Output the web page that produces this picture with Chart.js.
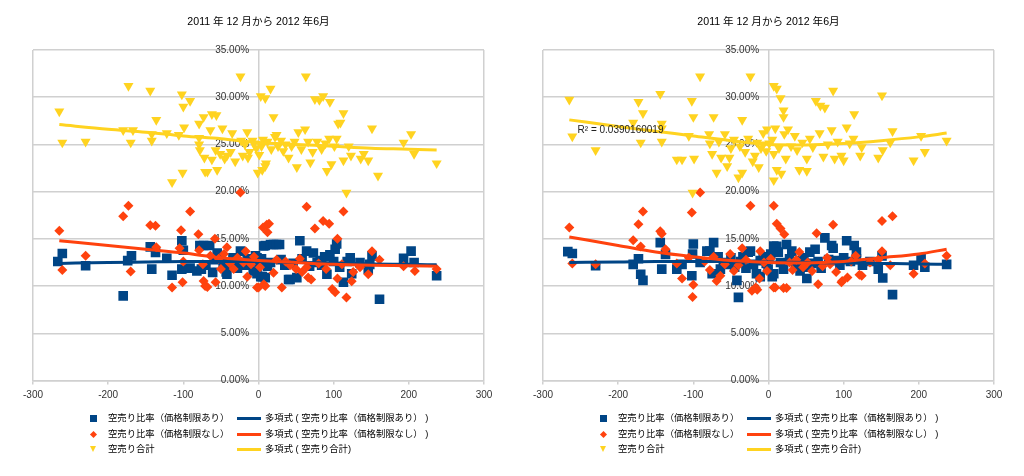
<!DOCTYPE html>
<html>
<head>
<meta charset="utf-8">
<script src="https://cdn.jsdelivr.net/npm/chart.js@4"></script>
<style>
  body { margin: 0; background: #fff; width: 1024px; height: 476px; overflow: hidden; position: relative;
         font-family: "Liberation Sans", "Noto Sans CJK JP", sans-serif; }
  .panel { position: absolute; top: 0; width: 510px; height: 476px; }
  .panel canvas { position: absolute; left: 0; top: 0; }
  .title { position: absolute; top: 13px; left: 0; width: 517px; text-align: center; font-size: 10.6px; color: #000; }
  .lg { position: absolute; font-size: 9.33px; color: #000; white-space: nowrap; line-height: 12px; }
  .mk { position: absolute; }
</style>
</head>
<body>
<div class="panel" id="p0" style="left:0"><canvas id="c0" width="510" height="476"></canvas></div>
<div class="panel" id="p1" style="left:510px"><canvas id="c1" width="510" height="476"></canvas></div>
<script>
// 2011年12月から2012年6月
const chartTitle = '2011 年 12 月から 2012 年6月';
const seriesNames = ['空売り比率（価格制限あり）', '空売り比率（価格制限なし）', '空売り合計'];
const trendNames = ['多項式 ( 空売り比率（価格制限あり） )', '多項式 ( 空売り比率（価格制限なし） )', '多項式 ( 空売り合計)'];
const colors = ['#004586', '#ff420e', '#ffd320'];
const gridColor = '#d0d0d0';

// left chart: [x, %]
const leftWith = [[-267,12.6],[-261,13.45],[-230,12.15],[-180,8.96],[-174,12.7],[-169,13.2],[-144,14.15],[-142,11.8],[-137,13.55],[-122,12.95],[-115,11.15],[-102,14.8],[-100,13.8],[-102,11.8],[-91,11.9],[-82,11.6],[-78,14.3],[-76,11.8],[-73,14.3],[-70,12.2],[-65,14.3],[-61,11.45],[-58,12.8],[-55,13.5],[-51,13.2],[-47,12.5],[-43,11.5],[-42,11.25],[-38,12.3],[-34,13.0],[-30,12.6],[-28,11.9],[-24,13.7],[-19,12.2],[-15,12.9],[-12,12.6],[-11,12.7],[-7,11.6],[-4,13.2],[-2,11.3],[-2,13.0],[1,12.4],[3,11.0],[4,12.9],[5,11.0],[7,14.25],[9,14.3],[9,10.9],[12,12.1],[16,12.5],[16,14.4],[20,14.4],[24,14.4],[28,14.4],[30,12.8],[35,12.2],[40,10.7],[42,10.7],[46,12.4],[51,10.9],[55,14.8],[58,12.9],[64,13.7],[68,12.1],[73,13.5],[78,12.5],[82,12.7],[84,12.2],[88,13.1],[91,11.25],[95,13.3],[100,12.6],[102,13.9],[104,14.45],[108,12.0],[113,10.4],[118,12.6],[122,13.0],[124,11.3],[135,12.5],[146,11.8],[148,12.3],[151,13.2],[161,8.6],[193,12.95],[203,13.7],[207,12.5],[237,11.1]];
const leftWithout = [[-265,15.85],[-261,11.7],[-230,13.2],[-180,17.4],[-173,18.5],[-170,11.55],[-144,16.45],[-137,16.4],[-136,14.1],[-115,9.85],[-105,14.0],[-103,15.9],[-101,10.4],[-100,12.6],[-91,17.9],[-80,15.5],[-79,13.8],[-74,12.3],[-73,10.55],[-71,10.0],[-68,9.9],[-64,13.2],[-58,15.0],[-57,10.4],[-53,12.9],[-50,11.8],[-46,13.4],[-42,14.1],[-38,12.4],[-33,11.8],[-28,13.0],[-24,19.9],[-20,12.5],[-17,13.7],[-15,11.0],[-10,12.3],[-6,13.1],[-2,9.85],[0,9.85],[2,12.0],[6,16.2],[7,10.2],[9,10.0],[11,16.5],[12,15.7],[14,16.6],[20,11.4],[24,12.8],[31,9.85],[36,12.6],[42,12.2],[50,11.8],[55,12.9],[58,11.5],[64,18.4],[64,12.0],[66,10.9],[70,10.7],[75,16.1],[80,12.4],[86,16.9],[90,11.8],[94,16.6],[98,9.7],[102,9.35],[105,15.0],[105,10.8],[111,12.3],[113,17.9],[117,8.8],[124,10.5],[126,11.5],[135,12.0],[146,11.25],[151,13.7],[161,12.8],[193,12.1],[208,11.6],[237,11.8]];
const leftTotal = [[-265,28.5],[-261,25.2],[-230,25.3],[-180,26.5],[-173,31.2],[-170,25.2],[-167,26.5],[-144,30.7],[-142,26.1],[-142,25.4],[-136,27.6],[-122,26.2],[-115,21.0],[-106,26.0],[-102,30.3],[-101,22.0],[-100,29.0],[-99,26.8],[-91,29.6],[-79,27.2],[-79,25.7],[-79,25.0],[-78,24.4],[-73,27.9],[-72,23.6],[-71,22.1],[-68,22.1],[-64,26.5],[-62,28.2],[-62,23.4],[-57,24.4],[-56,28.1],[-55,22.3],[-51,24.0],[-48,26.7],[-45,23.5],[-42,23.8],[-37,24.2],[-35,26.2],[-31,23.2],[-24,32.2],[-23,25.4],[-21,23.8],[-18,25.0],[-15,26.3],[-14,23.6],[-12,24.2],[-8,25.4],[-6,25.1],[-3,24.6],[-1,22.0],[1,23.9],[3,30.1],[4,24.8],[5,22.3],[6,25.5],[9,29.9],[9,22.7],[10,23.0],[12,25.3],[16,30.9],[17,24.5],[20,27.9],[22,25.8],[24,26.0],[26,24.8],[30,25.4],[33,24.3],[36,25.0],[40,23.6],[44,24.8],[48,25.3],[51,22.6],[53,26.3],[57,24.5],[62,26.6],[63,32.2],[66,25.3],[69,23.1],[72,24.2],[75,29.8],[78,25.3],[81,29.7],[84,24.5],[86,30.1],[89,25.1],[91,22.2],[94,25.6],[95,29.5],[97,22.9],[101,24.8],[104,25.6],[106,27.2],[109,27.3],[113,28.3],[113,23.3],[117,19.9],[120,24.8],[123,23.8],[136,23.5],[140,24.0],[146,23.3],[151,26.7],[159,21.7],[193,25.2],[203,26.1],[207,24.0],[237,23.0]];

// right chart: [x, %]
const rightWith = [[-267,13.65],[-261,13.45],[-230,12.15],[-180,12.3],[-173,12.9],[-170,11.25],[-167,10.6],[-144,14.6],[-142,11.8],[-137,13.35],[-122,11.8],[-115,12.3],[-102,11.1],[-101,13.4],[-100,14.45],[-91,12.5],[-82,13.7],[-78,13.7],[-75,11.3],[-73,14.6],[-67,13.1],[-64,11.8],[-60,12.5],[-55,12.3],[-50,13.0],[-45,12.0],[-42,10.6],[-40,8.8],[-37,12.6],[-34,13.1],[-30,11.9],[-27,13.6],[-24,13.7],[-20,12.3],[-16,11.3],[-11,12.7],[-11,11.0],[-7,13.1],[-3,12.4],[-0.5,11.8],[3,13.4],[5,11.0],[7,14.25],[7,11.3],[11,14.2],[13,13.6],[16,12.5],[20,11.8],[24,14.4],[28,12.9],[31,13.7],[36,12.3],[42,11.6],[42,12.7],[47,13.0],[51,10.8],[51,12.0],[55,13.6],[58,12.4],[62,13.9],[66,12.6],[70,11.9],[75,15.1],[80,12.8],[84,14.3],[86,14.0],[91,12.7],[95,12.2],[100,13.0],[104,14.8],[109,12.6],[114,14.3],[117,12.9],[117,13.6],[125,12.2],[135,12.6],[146,11.8],[151,13.2],[152,10.85],[165,9.1],[193,12.2],[203,12.9],[208,12.0],[237,12.3]];
const rightWithout = [[-265,16.2],[-261,12.4],[-230,12.3],[-180,14.85],[-173,16.55],[-170,14.2],[-167,17.9],[-144,15.8],[-142,15.55],[-137,13.9],[-122,12.4],[-115,10.8],[-106,13.0],[-102,17.8],[-101,8.85],[-100,10.15],[-91,19.9],[-85,12.6],[-78,11.7],[-73,13.1],[-69,10.55],[-64,11.1],[-58,12.3],[-51,13.4],[-46,11.6],[-40,12.2],[-35,14.0],[-30,12.8],[-24,18.5],[-22,9.5],[-17,9.85],[-15,9.6],[-12,10.8],[-11,13.7],[-6,12.5],[-2,11.6],[3,12.9],[7,18.5],[7,9.85],[9,9.85],[11,16.6],[16,16.1],[20,9.8],[21,15.5],[24,9.8],[28,12.5],[32,11.7],[37,12.8],[41,13.6],[46,12.0],[52,12.5],[58,11.6],[64,15.6],[66,10.2],[72,12.1],[78,13.0],[82,12.3],[86,16.5],[90,11.5],[97,10.4],[98,10.55],[105,10.9],[110,12.6],[116,13.2],[121,11.2],[124,11.1],[135,12.5],[146,12.8],[151,16.9],[151,13.7],[162,12.2],[165,17.4],[193,11.3],[208,12.4],[237,13.2]];
const rightTotal = [[-265,29.75],[-261,25.85],[-230,24.4],[-180,27.3],[-173,29.5],[-170,25.2],[-167,28.3],[-144,30.35],[-142,27.2],[-142,26.7],[-142,25.3],[-122,23.4],[-115,23.4],[-106,25.9],[-102,29.6],[-101,19.9],[-100,27.9],[-99,23.5],[-91,32.2],[-79,26.1],[-78,25.1],[-75,24.0],[-73,27.9],[-69,22.0],[-66,25.3],[-63,23.6],[-58,26.1],[-55,22.7],[-52,23.6],[-50,24.6],[-46,25.5],[-40,21.5],[-38,24.8],[-35,27.6],[-35,22.0],[-31,24.2],[-27,25.6],[-24,32.2],[-21,23.2],[-18,23.8],[-15,25.2],[-13,22.6],[-10,24.6],[-7,26.2],[-7,25.0],[-3,24.3],[-2,26.6],[1,25.1],[5,25.5],[7,31.2],[7,24.0],[7,21.2],[9,26.7],[11,30.9],[11,22.3],[14,24.6],[16,29.9],[17,21.9],[20,28.6],[20,27.9],[21,26.1],[23,23.5],[26,26.6],[30,24.8],[35,25.9],[38,24.4],[41,22.3],[45,25.2],[51,22.2],[51,23.5],[55,25.6],[59,24.7],[63,29.6],[68,26.2],[69,29.1],[73,23.7],[75,28.9],[79,25.0],[84,26.5],[86,30.7],[88,23.5],[92,25.3],[97,23.8],[100,23.3],[104,26.8],[108,25.1],[113,25.6],[114,28.2],[122,23.8],[124,24.7],[146,23.6],[151,30.2],[152,24.4],[162,25.2],[165,26.4],[193,23.3],[203,25.9],[208,24.2],[237,25.4]];

// polynomial trend curves
const trendX = [-265, -200, -150, -100, -50, 0, 50, 100, 150, 200, 237];
const leftTrendWith = [12.4, 12.5, 12.55, 12.6, 12.6, 12.6, 12.5, 12.45, 12.35, 12.3, 12.25];
const leftTrendWithout = [14.8, 14.3, 13.9, 13.5, 13.0, 12.7, 12.5, 12.3, 12.2, 12.15, 12.1];
const leftTrendTotal = [27.1, 26.6, 26.3, 25.9, 25.6, 25.2, 25.0, 24.8, 24.6, 24.5, 24.4];
const rightTrendWith = [12.5, 12.55, 12.6, 12.6, 12.6, 12.55, 12.5, 12.45, 12.4, 12.35, 12.3];
const rightTrendWithout = [15.2, 14.3, 13.6, 13.1, 12.7, 12.5, 12.45, 12.6, 13.0, 13.4, 13.9];
const rightTrendTotal = [27.6, 26.9, 26.4, 25.9, 25.4, 25.0, 24.95, 25.1, 25.4, 25.8, 26.2];

const r2Text = 'R² = 0.0390160019';
const r2At = [-254, 26.55];

function trend(ys) {
  return trendX.map((x, i) => ({x: x, y: ys[i]}));
}
function pts(arr) {
  return arr.map(p => ({x: p[0], y: p[1]}));
}

const r2Plugin = {
  id: 'r2label',
  afterDatasetsDraw(chart) {
    if (!chart.options.plugins.r2label || !chart.options.plugins.r2label.show) return;
    const ctx = chart.ctx;
    const x = chart.scales.x.getPixelForValue(r2At[0]);
    const y = chart.scales.y.getPixelForValue(r2At[1]);
    ctx.save();
    ctx.font = '10px "Liberation Sans"';
    ctx.fillStyle = '#222';
    ctx.textBaseline = 'middle';
    ctx.fillText(r2Text, x, y);
    ctx.restore();
  }
};

function makeChart(id, withPts, withoutPts, totalPts, tWith, tWithout, tTotal, showR2) {
  const line = (data, c, label) => ({
    type: 'line', label: label, data: trend(data), borderColor: c, borderWidth: 3,
    pointRadius: 0, fill: false, cubicInterpolationMode: 'monotone'
  });
  new Chart(document.getElementById(id), {
    type: 'scatter',
    data: {
      datasets: [
        line(tTotal, colors[2], trendNames[2]),
        line(tWithout, colors[1], trendNames[1]),
        line(tWith, colors[0], trendNames[0]),
        { label: seriesNames[2], data: pts(totalPts), pointStyle: 'triangle', pointRotation: 180, pointRadius: 5.8,
          backgroundColor: colors[2], borderColor: colors[2], borderWidth: 0 },
        { label: seriesNames[1], data: pts(withoutPts), pointStyle: 'rectRot', pointRadius: 5,
          backgroundColor: colors[1], borderColor: colors[1], borderWidth: 0 },
        { label: seriesNames[0], data: pts(withPts), pointStyle: 'rect', pointRadius: 6.8,
          backgroundColor: colors[0], borderColor: colors[0], borderWidth: 0 }
      ]
    },
    options: {
      responsive: false,
      animation: false,
      devicePixelRatio: 1,
      layout: { padding: { left: 33, right: 26, top: 50, bottom: 69.5 } },
      plugins: { legend: { display: false }, tooltip: { enabled: false }, r2label: { show: showR2 } },
      scales: {
        x: {
          type: 'linear', min: -300, max: 300,
          ticks: { stepSize: 100, color: '#333', padding: 5, font: { family: 'Liberation Sans', size: 10 } },
          grid: {
            color: c => (c.tick && (Math.abs(c.tick.value) === 300 || c.tick.value === 0)) ? gridColor : 'rgba(0,0,0,0)',
            lineWidth: 1.5, tickColor: gridColor, tickLength: 4
          },
          border: { color: gridColor, width: 1.5 }
        },
        y: {
          // labels sit just left of the x = 0 line
          type: 'linear', position: { x: -12.5 }, min: 0, max: 35,
          ticks: { stepSize: 5, color: '#333', font: { family: 'Liberation Sans', size: 10 },
                   callback: v => v.toFixed(2) + '%' },
          grid: { color: gridColor, lineWidth: 1.5, drawTicks: false },
          border: { display: false }
        }
      }
    },
    plugins: [r2Plugin]
  });
}

function addTexts(panelId) {
  const p = document.getElementById(panelId);
  const t = document.createElement('div');
  t.className = 'title';
  t.textContent = chartTitle;
  p.appendChild(t);
  const rows = [418, 434, 449];
  for (let i = 0; i < 3; i++) {
    const m = document.createElement('div');
    m.className = 'mk';
    if (i === 0) {
      m.style.cssText = 'left:90px;top:' + (rows[i] - 3.5) + 'px;width:7px;height:7px;background:' + colors[0];
    } else if (i === 1) {
      m.style.cssText = 'left:91px;top:' + (rows[i] - 2.5) + 'px;width:5px;height:5px;transform:rotate(45deg);background:' + colors[1];
    } else {
      m.style.cssText = 'left:90px;top:' + (rows[i] - 3) + 'px;width:0;height:0;border-left:3.5px solid transparent;border-right:3.5px solid transparent;border-top:6px solid ' + colors[2];
    }
    p.appendChild(m);
    const s = document.createElement('div');
    s.className = 'lg';
    s.style.left = '108px';
    s.style.top = (rows[i] - 6) + 'px';
    s.textContent = seriesNames[i];
    p.appendChild(s);
    const l = document.createElement('div');
    l.className = 'mk';
    l.style.cssText = 'left:237px;top:' + (rows[i] - 1.5) + 'px;width:24px;height:3px;background:' + colors[i];
    p.appendChild(l);
    const s2 = document.createElement('div');
    s2.className = 'lg';
    s2.style.left = '265px';
    s2.style.top = (rows[i] - 6) + 'px';
    s2.textContent = trendNames[i];
    p.appendChild(s2);
  }
}

makeChart('c0', leftWith, leftWithout, leftTotal, leftTrendWith, leftTrendWithout, leftTrendTotal, false);
makeChart('c1', rightWith, rightWithout, rightTotal, rightTrendWith, rightTrendWithout, rightTrendTotal, true);
addTexts('p0');
addTexts('p1');
</script>
</body>
</html>
